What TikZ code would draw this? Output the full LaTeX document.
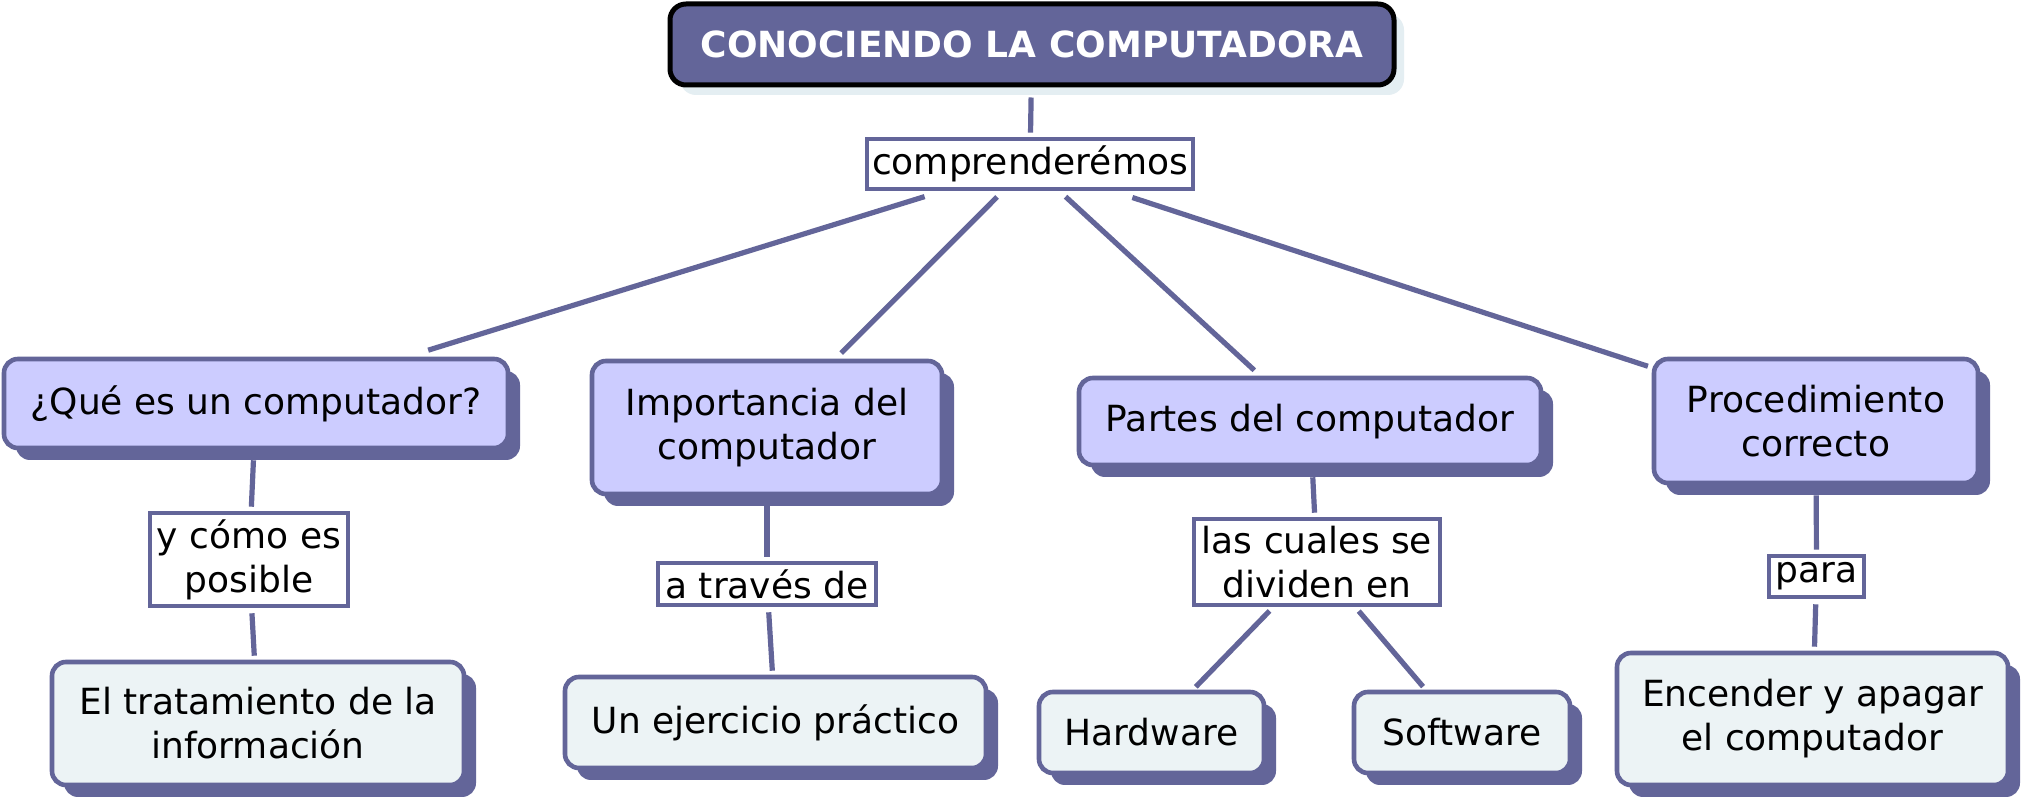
\documentclass[tikz,border=0pt]{standalone}
\usepackage{fontspec}
\setmainfont{DejaVu Sans}
\usepackage{tikz}
\usetikzlibrary{shadows}
\usetikzlibrary{positioning}

\definecolor{cmaposcuro}{RGB}{99,101,153}
\definecolor{cmaplila}{RGB}{204,204,255}
\definecolor{cmapclaro}{RGB}{236,243,245}
\definecolor{cmapsombra}{RGB}{228,238,242}

\tikzset{
  titulo/.style={draw=black, line width=2.5pt, rounded corners=8pt, fill=cmaposcuro,
    text=white, font=\bfseries\fontsize{18}{21}\selectfont, inner sep=2pt,
    drop shadow={shadow xshift=5pt, shadow yshift=-5pt, fill=cmapsombra, opacity=1}},
  concepto/.style={draw=cmaposcuro, line width=2.3pt, rounded corners=7pt, fill=cmaplila,
    align=center, font=\fontsize{18}{22}\selectfont, inner sep=1pt,
    drop shadow={shadow xshift=6pt, shadow yshift=-6pt, fill=cmaposcuro, opacity=1}},
  hoja/.style={concepto, fill=cmapclaro},
  enlace/.style={draw=cmaposcuro, line width=2.3pt, fill=white, align=center,
    font=\fontsize{18}{22}\selectfont, inner sep=1pt},
  linea/.style={draw=cmaposcuro, line width=2.6pt, shorten <=2.5pt, shorten >=2pt},
}

\begin{document}
\begin{tikzpicture}[x=0.5pt,y=-0.5pt]
\path[use as bounding box, fill=white] (0,0) rectangle (2031,806);

% titulo
\node[titulo, minimum width=362pt, minimum height=40.5pt] (tit) at (1032,44.5) {CONOCIENDO LA COMPUTADORA};
\node[enlace, minimum width=163pt, minimum height=25pt] (compr) at (1030,164) {comprenderémos};

% conceptos
\node[concepto, minimum width=252pt, minimum height=44.5pt] (que) at (256,403.5) {¿Qué es un computador?};
\node[concepto, minimum width=175pt, minimum height=66.5pt] (imp) at (767,427.5) {Importancia del\\computador};
\node[concepto, minimum width=231pt, minimum height=43.5pt] (par) at (1310,421.5) {Partes del computador};
\node[concepto, minimum width=162pt, minimum height=62pt] (pro) at (1816,421) {Procedimiento\\correcto};

% palabras de enlace
\node[enlace, minimum width=99pt, minimum height=46.5pt] (ycomo) at (249,559.5) {y cómo es\\posible};
\node[enlace, minimum width=109pt, minimum height=21pt] (atraves) at (767,584) {a través de};
\node[enlace, minimum width=123pt, minimum height=43pt] (cuales) at (1317,562) {las cuales se\\dividen en};
\node[enlace, minimum width=47.5pt, minimum height=20.5pt] (para) at (1816.5,576.5) {para};

% hojas
\node[hoja, minimum width=206pt, minimum height=61.5pt] (trat) at (258,723.5) {El tratamiento de la\\información};
\node[hoja, minimum width=210.5pt, minimum height=45.5pt] (ejer) at (775.5,722.5) {Un ejercicio práctico};
\node[hoja, minimum width=112.5pt, minimum height=40.5pt] (hard) at (1151.5,732.5) {Hardware};
\node[hoja, minimum width=108pt, minimum height=40.5pt] (soft) at (1462,732.5) {Software};
\node[hoja, minimum width=195.5pt, minimum height=66pt] (ence) at (1812.5,719) {Encender y apagar\\el computador};

% lineas
\draw[linea, shorten <=5pt] (tit) -- (compr);
\draw[linea, shorten <=9pt, shorten >=11pt] (compr) -- (que);
\draw[linea, shorten <=4pt, shorten >=4pt] (compr) -- (imp);
\draw[linea, shorten <=4pt, shorten >=4pt] (compr) -- (par);
\draw[linea, shorten <=10pt, shorten >=2pt] (compr) -- (pro);
\draw[linea, shorten <=5pt] (que) -- (ycomo);
\draw[linea] (ycomo) -- (trat);
\draw[linea, shorten <=5pt] (imp) -- (atraves);
\draw[linea] (atraves) -- (ejer);
\draw[linea, shorten <=5pt] (par) -- (cuales);
\draw[linea] (cuales) -- (hard);
\draw[linea] (cuales) -- (soft);
\draw[linea, shorten <=5pt] (pro) -- (para);
\draw[linea] (para) -- (ence);

\end{tikzpicture}
\end{document}
